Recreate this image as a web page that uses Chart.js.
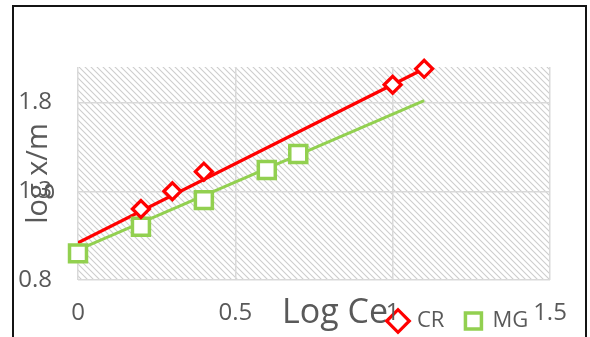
<!DOCTYPE html>
<html>
<head>
<meta charset="utf-8">
<script src="https://cdn.jsdelivr.net/npm/chart.js@4/dist/chart.umd.min.js"></script>
<style>
  html, body { margin: 0; padding: 0; background: #ffffff; width: 590px; height: 337px; overflow: hidden; }
  #frame { position: absolute; left: 12px; top: 5px; width: 571px; height: 400px; border: 2px solid #141414; }
  #wrap { position: absolute; left: 0; top: 0; width: 590px; height: 337px; }
</style>
</head>
<body>
<div id="frame"></div>
<div id="wrap"><canvas id="c" width="590" height="337"></canvas></div>
<script>
// Axis ticks
const xTicks = [0, 0.5, 1, 1.5];
const yTicks = [0.8, 1.3, 1.8];

// Measured isotherm points (log Ce vs log x/m)
const crLogCe = [0.2, 0.3, 0.4, 1.0, 1.1];
const crLogXm = [1.20, 1.30, 1.41, 1.90, 1.99];
const mgLogCe = [0, 0.2, 0.4, 0.6, 0.7];
const mgLogXm = [0.95, 1.10, 1.25, 1.42, 1.51];

// Linear trend lines (end points)
const crFitCe = [0, 1.1];
const crFitXm = [1.01, 1.99];
const mgFitCe = [0, 1.1];
const mgFitXm = [0.97, 1.81];

const seriesNames = ['CR', 'MG'];
const xTitle = 'Log Ce';
const yTitle = 'log x/m';

const toPoints = (xs, ys) => xs.map((x, i) => ({ x: x, y: ys[i] }));

const FONT = "'Open Sans', 'Liberation Sans', sans-serif";
const TEXT = '#595959';
const RED = '#ff0000';
const GREEN = '#92d050';
const LEGEND_FONT = 22;
const LEGEND_PAD = 21;

// diagonal hatch fill for the plot area
const hatchTile = (() => {
  const c = document.createElement('canvas');
  c.width = 6; c.height = 6;
  const g = c.getContext('2d');
  g.strokeStyle = '#cdcdcd';
  g.lineWidth = 1.1;
  g.beginPath();
  g.moveTo(-1, -1); g.lineTo(7, 7);
  g.moveTo(-1, 5); g.lineTo(1, 7);
  g.moveTo(5, -1); g.lineTo(7, 1);
  g.stroke();
  return c;
})();

const decor = {
  id: 'decor',
  afterLayout(chart) {
    const a = chart.chartArea;
    // x axis box runs to the bottom edge so its labels are not clipped
    const xs = chart.scales.x;
    xs.bottom = chart.height;
    xs.height = xs.bottom - xs.top;
    // legend sits on the axis-label row, right of the x title
    const lg = chart.legend;
    lg.left = a.left + 312 - LEGEND_PAD;
    lg.right = chart.width;
    lg.top = a.bottom + 41 - LEGEND_PAD - LEGEND_FONT / 2;
    lg.bottom = chart.height;
    lg.width = lg.right - lg.left;
    lg.height = lg.bottom - lg.top;
  },
  beforeDraw(chart) {
    const { ctx, chartArea: a } = chart;
    ctx.save();
    ctx.fillStyle = ctx.createPattern(hatchTile, 'repeat');
    ctx.fillRect(a.left, a.top, a.right - a.left, a.bottom - a.top);
    ctx.font = '34px ' + FONT;
    ctx.fillStyle = TEXT;
    ctx.textAlign = 'center';
    ctx.textBaseline = 'alphabetic';
    ctx.fillText(xTitle, (a.left + a.right) / 2 + 21, a.bottom + 43);
    ctx.restore();
  }
};

Chart.defaults.font.family = FONT;
Chart.defaults.color = TEXT;

new Chart(document.getElementById('c'), {
  type: 'scatter',
  data: {
    datasets: [
      {
        label: seriesNames[0],
        data: toPoints(crLogCe, crLogXm),
        showLine: false,
        pointStyle: 'rectRot',
        pointRadius: 8.5,
        pointBorderWidth: 3.2,
        borderWidth: 3.2,
        borderColor: RED,
        pointBorderColor: RED,
        backgroundColor: '#ffffff',
        pointBackgroundColor: '#ffffff',
        clip: false
      },
      {
        label: seriesNames[1],
        data: toPoints(mgLogCe, mgLogXm),
        showLine: false,
        pointStyle: 'rect',
        pointRadius: 12,
        pointBorderWidth: 3.5,
        borderWidth: 3.5,
        borderColor: GREEN,
        pointBorderColor: GREEN,
        backgroundColor: '#ffffff',
        pointBackgroundColor: '#ffffff',
        clip: false
      },
      {
        label: seriesNames[0] + ' fit',
        data: toPoints(crFitCe, crFitXm),
        showLine: true,
        pointRadius: 0,
        borderColor: RED,
        borderWidth: 3.2
      },
      {
        label: seriesNames[1] + ' fit',
        data: toPoints(mgFitCe, mgFitXm),
        showLine: true,
        pointRadius: 0,
        borderColor: GREEN,
        borderWidth: 3
      }
    ]
  },
  options: {
    responsive: false,
    devicePixelRatio: 1,
    animation: false,
    events: [],
    layout: { padding: { top: 67, right: 40, left: 0, bottom: 0 } },
    plugins: {
      tooltip: { enabled: false },
      title: { display: false },
      legend: {
        display: true,
        position: 'bottom',
        align: 'start',
        labels: {
          filter: item => item.datasetIndex < 2,
          usePointStyle: true,
          boxWidth: 16,
          boxHeight: 16,
          padding: LEGEND_PAD,
          color: TEXT,
          font: { size: LEGEND_FONT, family: FONT }
        }
      }
    },
    scales: {
      x: {
        type: 'linear',
        min: 0,
        max: 1.5,
        afterBuildTicks: s => { s.ticks = xTicks.map(v => ({ value: v })); },
        afterFit: s => { s.height = 57 - (s.chart.legend ? s.chart.legend.height : 0); },
        grid: { color: '#d9d9d9', lineWidth: 1.5, drawTicks: false },
        border: { display: false },
        ticks: {
          autoSkip: false,
          maxRotation: 0,
          padding: 19,
          color: TEXT,
          font: { size: 24, family: FONT },
          callback: v => String(v)
        }
      },
      y: {
        type: 'linear',
        min: 0.8,
        max: 2.0,
        afterBuildTicks: s => { s.ticks = yTicks.map(v => ({ value: v })); },
        afterFit: s => { s.width = 78; },
        grid: { color: '#d9d9d9', lineWidth: 1.5, drawTicks: false },
        border: { display: false },
        title: {
          display: true,
          text: yTitle,
          color: TEXT,
          font: { size: 29, family: FONT },
          padding: { top: 21, bottom: 0 }
        },
        ticks: {
          padding: 26,
          color: TEXT,
          font: { size: 24, family: FONT },
          callback: v => String(v)
        }
      }
    }
  },
  plugins: [decor]
});
</script>
</body>
</html>
